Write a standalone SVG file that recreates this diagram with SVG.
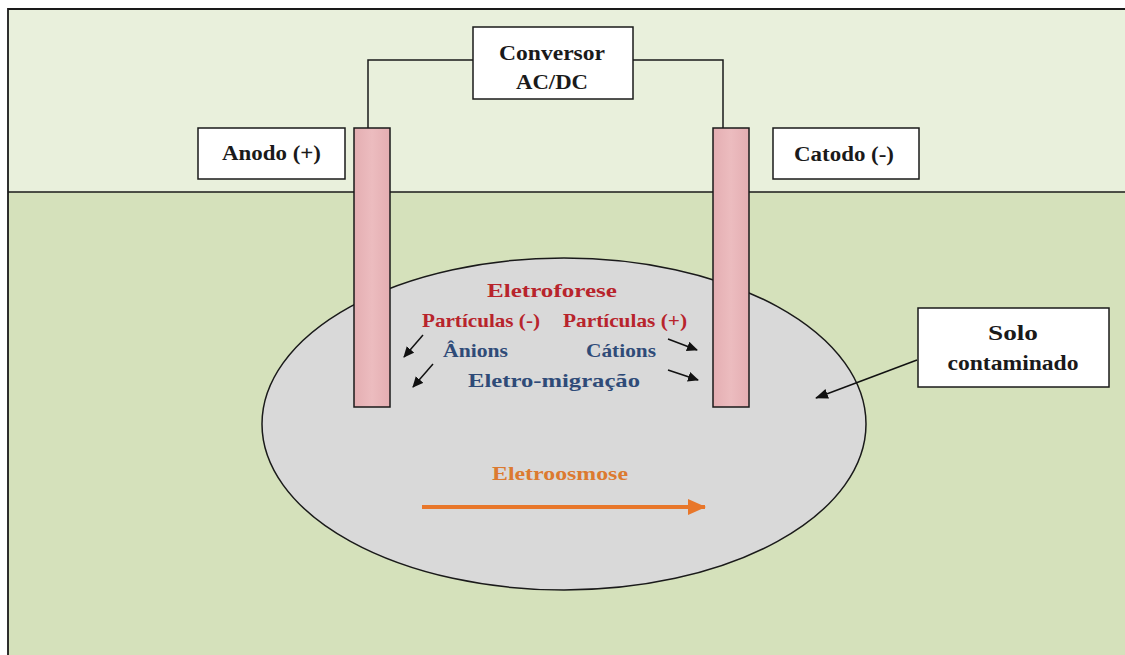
<svg xmlns="http://www.w3.org/2000/svg" width="1125" height="655" viewBox="0 0 1125 655">
<style>
.t{font-family:"Liberation Serif","Times New Roman",serif;font-weight:bold;text-anchor:middle}
.blk{fill:#1a1a1a;font-size:20px}
.red{fill:#b8242c;font-size:19px}
.blue{fill:#2f4b78;font-size:19px}
.org{fill:#dc7a30;font-size:19px}
.box{fill:#ffffff;stroke:#1a1a1a;stroke-width:1.5}
.elec{fill:url(#pink);stroke:#1a1a1a;stroke-width:1.5}
.wire{fill:none;stroke:#1a1a1a;stroke-width:1.5}
.arr{fill:none;stroke:#111;stroke-width:1.5;marker-end:url(#ah)}
</style>
<defs>
<linearGradient id="pink" x1="0" y1="0" x2="1" y2="0">
<stop offset="0" stop-color="#e4aeb2"/>
<stop offset="0.5" stop-color="#ecbcbf"/>
<stop offset="1" stop-color="#e4aeb2"/>
</linearGradient>
<marker id="ah" markerWidth="11" markerHeight="10" refX="10" refY="5" orient="auto" markerUnits="userSpaceOnUse">
<path d="M0,0 L11,5 L0,10 z" fill="#111"/>
</marker>
<marker id="ah2" markerWidth="13" markerHeight="10" refX="12" refY="5" orient="auto" markerUnits="userSpaceOnUse">
<path d="M0,0 L13,5 L0,10 z" fill="#111"/>
</marker>
<marker id="oa" markerWidth="18" markerHeight="16" refX="17" refY="8" orient="auto" markerUnits="userSpaceOnUse">
<path d="M0,0 L18,8 L0,16 z" fill="#e8772a"/>
</marker>
</defs>
<rect x="0" y="0" width="1125" height="655" fill="#ffffff"/>
<g id="background">
<rect x="8" y="9" width="1130" height="183" fill="#e9f0dc"/>
<rect x="8" y="192" width="1130" height="470" fill="#d5e1bb"/>
<path d="M1130,9 L8,9 L8,660" fill="none" stroke="#1a1a1a" stroke-width="1.8"/>
<line x1="8" y1="192" x2="1130" y2="192" stroke="#1a1a1a" stroke-width="1.5"/>
</g>
<g id="solo">
<ellipse cx="564" cy="424" rx="302" ry="166" fill="#d9d9d9" stroke="#1a1a1a" stroke-width="1.5"/>
</g>
<g id="connectors">
<path class="wire" d="M368,128 L368,60 L473,60"/>
<path class="wire" d="M633,60 L723,60 L723,128"/>
<line x1="917" y1="360" x2="816" y2="398" stroke="#111" stroke-width="1.5" marker-end="url(#ah2)"/>
<line class="arr" x1="423" y1="335" x2="404" y2="357"/>
<line class="arr" x1="433" y1="364" x2="413" y2="387"/>
<line class="arr" x1="668" y1="339" x2="697" y2="350"/>
<line class="arr" x1="668" y1="370" x2="698" y2="380"/>
<line x1="422" y1="507" x2="705" y2="507" stroke="#e8772a" stroke-width="4" marker-end="url(#oa)"/>
</g>
<g id="anodo-electrode">
<rect class="elec" x="354" y="128" width="36" height="279"/>
</g>
<g id="catodo-electrode">
<rect class="elec" x="713" y="128" width="36" height="279"/>
</g>
<g id="conversor">
<rect class="box" x="473" y="27" width="160" height="72"/>
<text class="t blk" x="552" y="60" textLength="106" lengthAdjust="spacingAndGlyphs">Conversor</text>
<text class="t blk" x="552" y="89" textLength="72" lengthAdjust="spacingAndGlyphs">AC/DC</text>
</g>
<g id="anodo">
<rect class="box" x="198" y="128" width="147" height="51"/>
<text class="t blk" x="271.5" y="160" textLength="99" lengthAdjust="spacingAndGlyphs">Anodo (+)</text>
</g>
<g id="catodo">
<rect class="box" x="773" y="128" width="146" height="51"/>
<text class="t blk" x="844" y="161" textLength="100" lengthAdjust="spacingAndGlyphs">Catodo (-)</text>
</g>
<g id="solo-label">
<rect class="box" x="918" y="308" width="191" height="79"/>
<text class="t blk" x="1013" y="340" textLength="50" lengthAdjust="spacingAndGlyphs">Solo</text>
<text class="t blk" x="1013" y="370" textLength="131" lengthAdjust="spacingAndGlyphs">contaminado</text>
</g>
<g id="labels">
<text class="t red" x="552" y="297" textLength="130" lengthAdjust="spacingAndGlyphs">Eletroforese</text>
<text class="t red" x="481" y="327" textLength="118" lengthAdjust="spacingAndGlyphs">Partículas (-)</text>
<text class="t red" x="625" y="327" textLength="124" lengthAdjust="spacingAndGlyphs">Partículas (+)</text>
<text class="t blue" x="475.5" y="357" textLength="65" lengthAdjust="spacingAndGlyphs">Ânions</text>
<text class="t blue" x="621" y="357" textLength="70" lengthAdjust="spacingAndGlyphs">Cátions</text>
<text class="t blue" x="554" y="387" textLength="172" lengthAdjust="spacingAndGlyphs">Eletro-migração</text>
<text class="t org" x="560" y="480" textLength="136" lengthAdjust="spacingAndGlyphs">Eletroosmose</text>
</g>
</svg>
